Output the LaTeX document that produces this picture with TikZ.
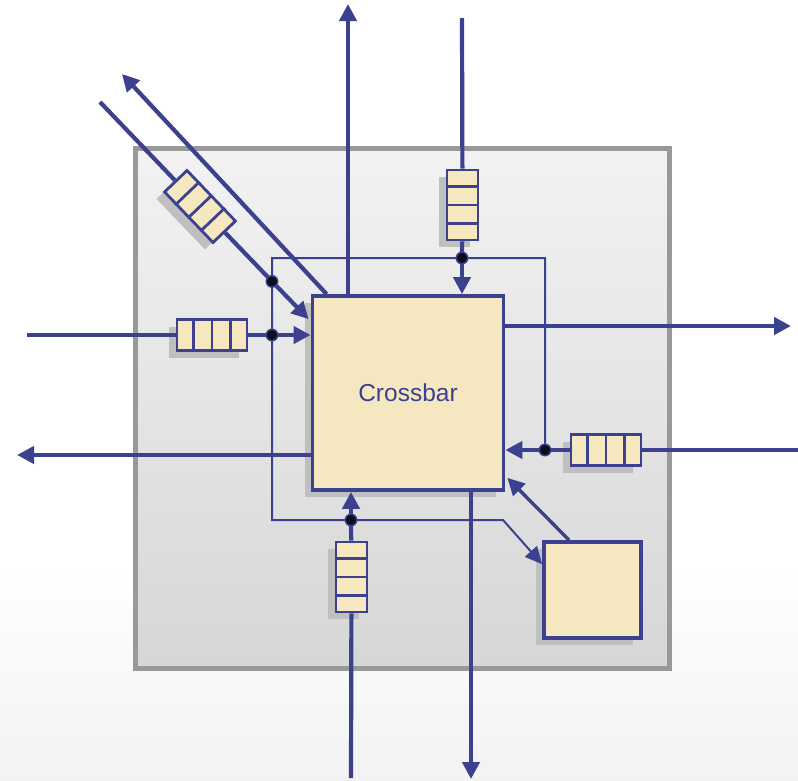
\documentclass[tikz,border=0pt]{standalone}
\usepackage{fontspec}
\setsansfont{Liberation Sans}
\usetikzlibrary{arrows.meta,calc,shadows}
\definecolor{qb}{RGB}{60,65,143}
\definecolor{qf}{RGB}{245,232,193}
\begin{document}
\begin{tikzpicture}[x=1pt,y=-1pt,
 conn/.style={draw=qb,line width=4.2pt},
 arr/.style={conn,-{Triangle[length=17pt,width=17pt]}},
 thinl/.style={draw=qb,line width=2pt},
 box/.style={draw=qb,fill=qf,line width=3.8pt,inner sep=0pt,
   drop shadow={shadow xshift=-8pt,shadow yshift=-7pt,fill=black!25,opacity=1}},
 queueh/.style={box,line width=2.8pt,minimum width=70pt,minimum height=31pt},
 queuev/.style={box,line width=2.8pt,minimum width=31pt,minimum height=70pt},
 frame/.style={draw=black!40,line width=5pt,top color=black!5,bottom color=black!16,
   minimum width=534pt,minimum height=520pt,inner sep=0pt},
 jdot/.style={circle,draw=qb,fill=black!80!qb,line width=1pt,minimum size=11pt,inner sep=0pt}
]
\useasboundingbox[fill=white] (0,0) rectangle (798,780);
\fill[top color=white,bottom color=black!5,draw=none] (0,560) rectangle (798,780);
\node[frame] (fr) at (402,408) {};

% main boxes
\node[box,minimum width=191pt,minimum height=194pt,text=qb,
  font=\sffamily\fontsize{24.5}{28}\selectfont] (xb) at (408,393) {Crossbar};
\node[box,minimum width=97pt,minimum height=96pt] (sb) at (592.5,590) {};

% queues
\node[queueh] (ql) at (212,335) {};
\node[queueh] (qr) at (606,450) {};
\node[queuev] (qt) at (462.5,205) {};
\node[queuev] (qbt) at (351.5,577) {};
\node[queueh,rotate=-46.2] (qd) at (200,206.5) {};
\foreach \q in {ql,qr,qd}{
  \foreach \k in {1,2,3}{
    \draw[qb,line width=2.8pt] ($(\q.north west)!\k/4!(\q.north east)$) -- ($(\q.south west)!\k/4!(\q.south east)$);
  }
}
\foreach \q in {qt,qbt}{
  \foreach \k in {1,2,3}{
    \draw[qb,line width=2.8pt] ($(\q.north west)!\k/4!(\q.south west)$) -- ($(\q.north east)!\k/4!(\q.south east)$);
  }
}

% free ends and corners
\coordinate (tOut) at (348,4);
\coordinate (tIn) at (462,18);
\coordinate (dOut) at (122,74);
\coordinate (dIn) at (100,102);
\coordinate (lIn) at (27,335);
\coordinate (lOut) at (17,455);
\coordinate (rOut) at (791,326);
\coordinate (rIn) at (798,450);
\coordinate (bIn) at (351,778);
\coordinate (bOut) at (471,779);
\coordinate (c1) at (545,258);
\coordinate (c2) at (272,258);
\coordinate (c3) at (272,520);
\coordinate (c4) at (503,520);

% junction dots
\node[jdot] (d1) at (272,281.4) {};
\node[jdot] (d2) at (272,335) {};
\node[jdot] (d3) at (462,258) {};
\node[jdot] (d4) at (545,450) {};
\node[jdot] (d5) at (351,520) {};

% control lines
\draw[thinl,-{Triangle[length=17pt,width=16pt]}] (d4) -- (c1) -- (c2) -- (c3) -- (c4) -- ($(sb.north west)+(0,24)$);

% connectors
\draw[arr] (xb.north -| tOut) -- (tOut);
\draw[arr] ($(xb.north west)+(16,0)$) -- (dOut);
\draw[conn] (dIn) -- (qd);
\draw[conn] (qd) -- (d1);
\draw[arr] (d1) -- ($(xb.north west)+(-2,25)$);
\draw[conn] (lIn) -- (ql);
\draw[conn] (ql) -- (d2);
\draw[arr] (d2) -- (xb.west |- d2);
\draw[arr] (xb.west |- lOut) -- (lOut);
\draw[conn] (tIn) -- (qt);
\draw[conn] (qt) -- (d3);
\draw[arr] (d3) -- (xb.north -| d3);
\draw[arr] (xb.east |- rOut) -- (rOut);
\draw[conn] (rIn) -- (qr);
\draw[conn] (qr) -- (d4);
\draw[arr] (d4) -- (xb.east |- d4);
\draw[conn] (bIn) -- (qbt);
\draw[conn] (qbt) -- (d5);
\draw[arr] (d5) -- (xb.south -| d5);
\draw[arr] (xb.south -| bOut) -- (bOut);
\draw[arr,line width=3.4pt] ($(sb.north west)+(27,0)$) -- ($(xb.south east)+(2,-14)$);

% redraw dots on top
\foreach \d in {d1,d2,d3,d4,d5}{
  \fill[black!80!qb] (\d) circle (5.2pt);
  \draw[qb,line width=1.3pt] (\d) circle (5.8pt);
}
\end{tikzpicture}
\end{document}
